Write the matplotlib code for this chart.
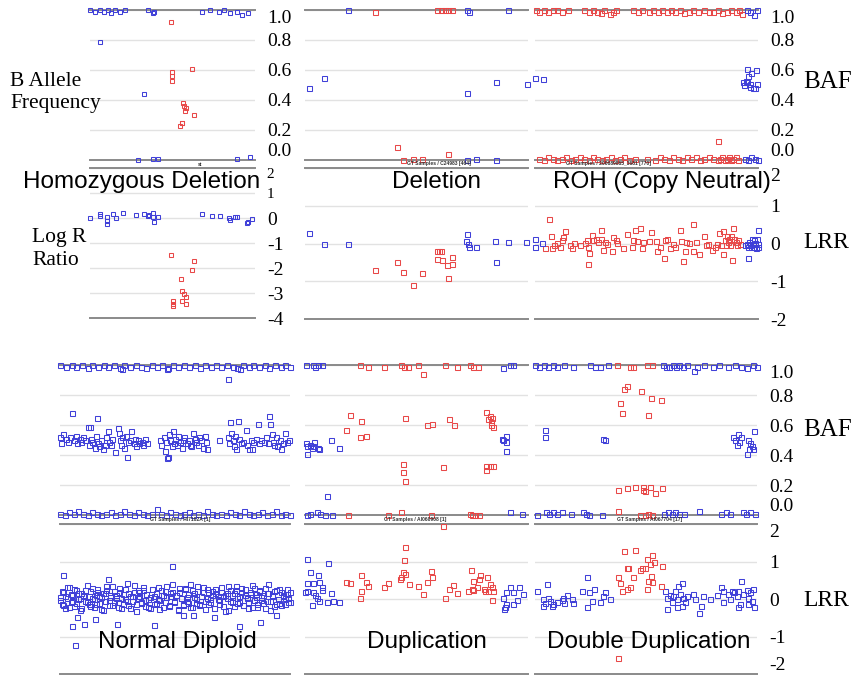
import matplotlib.pyplot as plt

W, H = 851, 678
BLUE = '#4040d8'
RED = '#e84848'
GRID = '#e2e2e2'
EDGE = '#8a8a8a'
SERIF = 'Liberation Serif'
SANS = 'Liberation Sans'

baf_ticks = [0.0, 0.2, 0.4, 0.6, 0.8, 1.0]
baf_labels = ['0.0', '0.2', '0.4', '0.6', '0.8', '1.0']
lrr_ticks_hom = [-4, -3, -2, -1, 0, 1, 2]
lrr_ticks = [-2, -1, 0, 1, 2]

titles_top = ['Homozygous Deletion', 'Deletion', 'ROH (Copy Neutral)']
titles_bottom = ['Normal Diploid', 'Duplication', 'Double Duplication']
samples_top = ['st', 'GT Samples / C24983 [464]', 'GT Samples / 200689865_3681 [770]']
samples_bottom = ['GT Samples / HI7102A [1]', 'GT Samples / AI060908 [1]', 'GT Samples / AI067704 [17]']

# ---- Homozygous deletion (x: 0-100 along the window) ----
hom_baf_blue = [(0, 1.0), (3, .99), (6, 1.0), (8.5, .99), (11, 1.0), (13, .98), (15, 1.0), (18, .99),
                (21, 1.0), (35, 1.0), (38, .98), (39, .99), (68, .99), (73, 1.0), (78, .99), (81, 1.0),
                (85, .98), (89, .99), (92, .97), (96, .98), (6, .79), (33, .44),
                (29, 0.0), (38, .01), (41, .01), (89, .01), (97, .02)]
hom_baf_red = [(49, .92), (49.7, .59), (49.7, .56), (49.7, .53), (61.8, .61), (56.4, .38), (57, .36),
               (58.2, .35), (57.6, .33), (63, .30), (55.8, .25), (54.5, .23), (56, .245)]
hom_lrr_blue = [(0, 0.0), (6, .16), (6, .07), (10, .03), (10, -.11), (10, -.24), (14, .16), (16, 0.0),
                (20, .2), (28, .13), (33, .16), (35, .09), (36, .13), (38, .19), (38, .03), (39, -.17),
                (41, .05), (68, .16), (74, .09), (79, .09), (84, 0.0), (85, -.07), (88, .05), (89, .05),
                (95, -.2), (96, -.15), (98, -.04)]
hom_lrr_red = [(49, -1.48), (63, -1.71), (62, -2.07), (55, -2.44), (56, -2.91), (57, -3.04), (58, -3.17),
               (56, -3.31), (58, -3.44), (50, -3.31), (50, -3.44), (50, -3.53)]

# ---- Deletion ----
del_baf_blue = [(1.8, .48), (8.5, .55), (19.3, 1.0), (72.6, 1.0), (73.5, .99), (91, 1.0), (72.6, .45),
                (85.7, .52), (99.5, .51), (72.6, 0.0), (76.7, .01), (85.7, 0.0)]
del_baf_red = [(31.4, .99), (59.2, 1.0), (61, 1.0), (62.8, 1.0), (64.1, 1.0), (65.9, 1.0), (41.3, .09),
               (43.9, 0.0), (48.4, .01), (52.5, .01), (64.1, .04)]
del_lrr_blue = [(1.8, .28), (8.5, 0.0), (19.3, 0.0), (72.6, .24), (72.2, .07), (73.1, 0.0), (73.5, -.09),
                (76.7, -.09), (85.2, .06), (91, .04), (99.1, .04), (85.7, -.49)]
del_lrr_red = [(31.4, -.71), (41.3, -.48), (43.9, -.75), (48.4, -1.09), (52.5, -.78), (59.2, -.19),
               (60.1, -.19), (61, -.19), (59.2, -.41), (61.4, -.45), (65.9, -.36), (65.9, -.53),
               (63.7, -.57), (64.1, -.91)]

# ---- ROH (copy neutral) ----
roh_baf_red = [(0.5, 1.0), (2, .99), (4, 1.0), (6, .99), (8, 1.0), (10, 1.0), (12, .99), (15, 1.0),
               (22, 1.0), (24, .99), (26, 1.0), (28, .99), (29.5, .98), (31, 1.0), (33.5, .975), (35, .99),
               (36.5, 1.0), (44, 1.0), (46, .99), (48, 1.0), (51, .99), (53, 1.0), (55, .99), (57, 1.0),
               (59, .99), (61, 1.0), (63, .99), (65, 1.0), (67, .98), (69, .99), (71, 1.0), (73, .99),
               (76, 1.0), (78, .99), (80, .99), (82, 1.0), (84, .98), (86, .99), (88, 1.0), (90, .99),
               (91.5, 1.0), (93, .975),
               (2, .01), (4, 0.0), (6, .02), (8, .01), (10, 0.0), (12, .01), (14, .02), (16, 0.0),
               (18, .01), (20, .02), (22, .01), (24, 0.0), (26, .02), (28, .01), (30, 0.0), (32, .01),
               (34, .02), (36, 0.0), (38, .01), (40, .02), (42, 0.0), (45, .01), (50, .01), (54, 0.0),
               (56, .02), (58, .01), (60, 0.0), (62, .02), (64, .01), (66, 0.0), (68, .02), (70, .01),
               (72, .02), (74, 0.0), (76, .01), (78, .02), (80, .01), (82, 0.0), (83, .01), (84, .02),
               (85, 0.0), (86, .01), (87, .02), (88, 0.0), (89, .01), (90, .02), (91, 0.0), (82, .13)]
roh_baf_blue = [(0, .55), (3.6, .54), (94.9, .61), (96.7, .58), (99.1, .60), (95.7, .56), (94.6, .53),
                (93.4, .52), (95.2, .52), (96.4, .49), (97.6, .48), (98.7, .48), (99.4, .51), (93.9, .50),
                (96.3, .51), (95, 1.0), (96.5, .99), (98, .97), (99.5, 1.0),
                (94, .01), (95.5, 0.0), (97, .02), (98.5, .01), (100, 0.0)]
roh_lrr_red = [(4.5, -.13), (6.3, .64), (7, .19), (7.5, -.13), (8.5, -.04), (9.7, .02), (11.2, -.1),
               (12, .1), (12.7, .17), (13.5, .32), (15.7, -.04), (16.4, -.13), (17.5, .02), (20.2, -.04),
               (22.4, .02), (23.5, .1), (23.9, -.08), (24.4, -.26), (23.9, -.54), (25.4, .23), (26.2, .08),
               (27.4, .12), (28.4, .04), (29.6, .35), (29.5, .12), (30.3, -.17), (31.4, .04), (32.4, 0.0),
               (34.4, -.19), (35.1, .17), (36.3, .08), (36.9, .02), (39.3, -.13), (41.4, .26), (43.4, -.08),
               (44.1, .1), (44.8, .37), (45.9, .06), (47.1, .42), (47.8, -.13), (48.6, .04), (51.3, .06),
               (51.9, .3), (54.3, .06), (54.8, -.19), (56.1, -.1), (58, -.39), (58.3, .08), (59.1, .12),
               (60.5, -.13), (62, 0.0), (62.8, -.1), (65, .37), (65.3, .06), (66.2, -.47), (67.3, -.19),
               (67.7, .04), (69.2, .02), (70.7, .51), (71, -.19), (72.2, .04), (73.7, -.28), (75.8, .19),
               (76.7, -.04), (77.7, -.02), (79.2, -.17), (80.7, -.1), (81.8, 0.0), (82.7, .28), (83.3, -.04),
               (84.2, .33), (84.2, -.28), (85.2, .08), (86, .19), (86.7, .04), (87.4, -.04), (87.9, .19),
               (88.2, -.45), (88.9, .41), (89.2, .12), (90.1, .04), (90.4, -.04), (91.2, .08), (91.9, -.02),
               (85.6, -.04), (87.2, .12)]
roh_lrr_blue = [(0, -.09), (3, .02), (0, .12), (94.1, -.04), (95, 0.0), (95.3, -.08), (96, .04), (96.5, -.04),
                (96.9, -.1), (97.6, 0.0), (98.1, .08), (98.4, -.08), (98.7, .02), (99.1, -.13), (99.6, .12),
                (99.9, -.02), (100, .35), (99.8, -.08), (97.2, .12), (95.5, -.39)]

# ---- Normal diploid ----
nd_baf_blue = [(0, 1.0), (2.5, .99), (5, 1.0), (7, .99), (9.5, 1.0), (12, .98), (14, 1.0), (16.5, .99),
               (19, 1.0), (21, .99), (23.5, 1.0), (26, .98), (28, 1.0), (30.5, .99), (33, 1.0), (35, .99),
               (37.5, .98), (40, 1.0), (42, .99), (44.5, 1.0), (47, .98), (49, 1.0), (51.5, .99), (54, 1.0),
               (56, .99), (58.5, 1.0), (61, .98), (63, 1.0), (65.5, .99), (68, 1.0), (70, .99), (72.5, 1.0),
               (75, .99), (77, .98), (79.5, 1.0), (82, .99), (84, 1.0), (86.5, .99), (89, 1.0), (91, .98),
               (93.5, 1.0), (96, .99), (98, 1.0), (100, .99), (26.8, .975), (46.4, .975), (78.3, .975),
               (73.2, .91),
               (0, .52), (0.5, .48), (1.5, .54), (2.5, .51), (3.5, .49), (5, .68), (4.5, .52), (6, .50),
               (7, .53), (7.5, .48), (8.5, .51), (9, .49), (10, .52), (11, .50), (12, .59), (13, .59),
               (12.5, .47), (13.5, .51), (14, .49), (15, .45), (15.5, .53), (16, .65), (16.5, .48), (17, .46),
               (18, .50), (18.5, .44), (19.5, .47), (20, .52), (21, .56), (21.5, .49), (22, .47), (22.5, .51),
               (24, .42), (25, .58), (25.5, .55), (26, .50), (26.5, .47), (27, .52), (28, .45), (28.5, .53),
               (29, .39), (29.5, .49), (30.5, .50), (31, .56), (32, .48), (32.5, .51), (33, .46), (34, .50),
               (34.5, .48), (35.5, .49), (36, .47), (37, .51), (38, .48),
               (43.5, .50), (44, .47), (45, .52), (45.5, .43), (46, .49), (46.5, .38), (47, .39), (47.5, .54),
               (48, .50), (48.5, .46), (49, .56), (49.5, .48), (50, .51), (51, .47), (51.5, .53), (52, .49),
               (53, .45), (53.5, .50), (54, .52), (55, .48), (56, .50), (56.5, .47), (57, .46), (58, .55),
               (58.5, .51), (59, .49), (60, .47), (60.5, .52), (61.5, .50), (62, .45), (63, .53), (63.5, .49),
               (64, .44), (69, .50),
               (73, .52), (73.5, .48), (74, .62), (74.5, .55), (75, .50), (75.5, .46), (76, .53), (76.5, .44),
               (77.5, .63), (78, .51), (78.5, .48), (79.5, .49), (81, .57), (81.5, .47), (82, .44), (83, .50),
               (83.5, .44), (84, .49), (85, .51), (86, .61), (86.5, .48), (87.5, .50), (88.5, .49), (89.5, .52),
               (90.5, .48), (91, .66), (91.5, .61), (92, .54), (92.5, .49), (93, .47), (94, .52), (94.5, .46),
               (95.5, .50), (96, .44), (97, .48), (98, .55), (98.5, .49), (99.5, .50),
               (0, .01), (2, 0.0), (4, .02), (6, .01), (8, .03), (10, .01), (12, 0.0), (14, .02), (16, .01),
               (18, 0.0), (20, .01), (22, .02), (24, 0.0), (26, .01), (28, .03), (30, .01), (32, 0.0),
               (34, .02), (36, .01), (38, 0.0), (40, .01), (42, .04), (44, .01), (46, 0.0), (48, .02),
               (50, .01), (52, 0.0), (54, .01), (56, .02), (58, 0.0), (60, .01), (62, 0.0), (64, .03),
               (66, .01), (68, 0.0), (70, .01), (72, 0.0), (74, .02), (76, .01), (78, 0.0), (80, .03),
               (82, .01), (84, 0.0), (86, .01), (88, .02), (90, 0.0), (92, .01), (94, .03), (96, 0.0),
               (98, .01), (100, 0.0)]
nd_lrr_x = [0, 0.7, 1.5, 2.2, 3.0, 3.9, 4.6, 5.4, 6.1, 6.9, 7.8, 8.5, 9.3, 10.0, 10.8, 11.7, 12.4, 13.2,
            13.9, 14.8, 15.6, 16.3, 17.1, 17.9, 18.7, 19.5, 20.2, 21.1, 21.8, 22.6, 23.5, 24.2, 25.0, 25.8,
            26.6, 27.4, 28.1, 29.0, 29.7, 30.5, 31.4, 32.1, 32.9, 33.7, 34.5, 35.3, 36.0, 36.9, 37.6, 38.4,
            39.3, 40.0, 40.8, 41.6, 42.4, 43.2, 43.9, 44.8, 45.5, 46.3, 47.2, 47.9, 48.7, 49.5, 50.3, 51.1,
            51.8, 52.7, 53.4, 54.2, 55.1, 55.8, 56.6, 57.4, 58.2, 59.0, 59.7, 60.6, 61.3, 62.1, 63.0, 63.7,
            64.5, 65.3, 66.1, 66.9, 67.6, 68.5, 69.2, 70.0, 70.9, 71.6, 72.4, 73.2, 74.0, 74.8, 75.5, 76.4,
            77.1, 77.9, 78.8, 79.5, 80.3, 81.1, 81.9, 82.7, 83.4, 84.3, 85.0, 85.8, 86.7, 87.4, 88.2, 89.0,
            89.8, 90.6, 91.3, 92.2, 92.9, 93.7, 94.6, 95.3, 96.1, 96.9, 97.7, 98.5, 99.2, 100.0]
nd_lrr_a = [0.05, -0.12, 0.18, -0.25, 0.02, 0.31, -0.08, 0.12, -0.18, 0.24, 0.0, -0.3, 0.15, 0.08, -0.05,
            0.38, -0.14, 0.21, 0.03, -0.22, 0.1, 0.27, -0.1, 0.06, -0.28, 0.16, 0.35, -0.02, 0.11, -0.17,
            0.22, 0.04, -0.09, 0.29, -0.24, 0.13, 0.01, 0.42, -0.15, 0.07, -0.06, 0.19, -0.32, 0.25, 0.09,
            -0.11, 0.33, -0.03, 0.14, -0.2, 0.05, 0.28, -0.13, 0.17, 0.0, -0.26, 0.23, 0.1, -0.07, 0.36,
            -0.19, 0.08, 0.2, -0.04, 0.12, -0.29, 0.3, 0.02, -0.16, 0.26, 0.06, -0.1, 0.4, -0.21, 0.15,
            -0.01, 0.22, -0.14, 0.09, 0.32, -0.27, 0.04, 0.18, -0.08, 0.11, -0.23, 0.27, 0.0, -0.12, 0.2,
            0.07, -0.31, 0.16, 0.34, -0.05, 0.12, -0.18, 0.24, 0.03, -0.09, 0.29, -0.15, 0.1, 0.05, -0.25,
            0.19, 0.38, -0.02, 0.13, -0.2, 0.23, 0.06, -0.11, 0.3, -0.06, 0.15, -0.28, 0.08, 0.21, -0.13,
            0.01, 0.26, -0.17, 0.11, 0.04, 0.14, -0.07, 0.19]
nd_lrr_b = [-0.02, 0.21, -0.15, 0.09, 0.33, -0.2, 0.14, -0.06, 0.27, -0.11, 0.17, 0.04, -0.24, 0.12, 0.25,
            -0.09, 0.07, -0.18, 0.3, 0.01, -0.13, 0.2, 0.08, -0.27, 0.15, -0.04, 0.23, -0.16, 0.06, 0.34,
            -0.08, 0.11, -0.21, 0.18, 0.03, -0.12, 0.28, -0.05, 0.16, -0.25, 0.09, 0.37, -0.14, 0.02, 0.19,
            -0.07, 0.24, -0.19, 0.13, 0.0, -0.23, 0.26, 0.07, -0.1, 0.31, -0.03, 0.12, -0.2, 0.22, 0.05,
            -0.15, 0.17, 0.39, -0.08, 0.1, -0.26, 0.2, 0.03, -0.12, 0.29, -0.04, 0.13, -0.22, 0.24, 0.06,
            -0.1, 0.35, -0.17, 0.08, 0.18, -0.06, 0.27, -0.14, 0.01, 0.21, -0.24, 0.15, 0.09, -0.03, 0.32,
            -0.19, 0.11, 0.04, -0.28, 0.23, -0.07, 0.16, 0.36, -0.11, 0.07, 0.19, -0.16, 0.26, 0.02, -0.09,
            0.14, -0.21, 0.3, 0.05, -0.13, 0.22, -0.02, 0.1, -0.25, 0.17, 0.41, -0.06, 0.12, -0.18, 0.25,
            0.0, -0.11, 0.2, 0.07, -0.14, 0.28, 0.03, -0.08]
nd_lrr_out = [(48.6, .89), (1.4, .64), (21, .53), (6.5, -1.23), (5, -.71), (41, -.68), (78, -.71),
              (94, -.43), (87, -.62), (67, -.49), (53.6, -.43), (58, -.43), (10.6, -.67), (15.2, -.53),
              (24.6, -.67), (7.5, -.49)]

# ---- Duplication ----
dup_baf_blue = [(0.4, .48), (1, .46), (2.2, .47), (3, .45), (3.7, .46), (4.2, .49), (6, .45), (6.4, .44),
                (0.7, .41), (11.5, .50), (15.2, .45), (9.7, .13), (88.2, .51), (88.6, .50), (90.1, .53),
                (90.1, .49), (90.3, .43), (0.4, 1.0), (3.7, 1.0), (4.5, .99), (6, 1.0), (7.5, 1.0),
                (88.9, .98), (91.9, 1.0), (93.4, 1.0), (0.7, 0.0), (2.2, .01), (5.2, .02), (6.7, .01),
                (9, 0.0), (12, 0.0), (91.9, .02), (97.2, .01)]
dup_baf_red = [(24.7, 1.0), (28.4, .99), (35.6, .99), (42.9, 1.0), (44.4, .99), (46.3, .99), (50.8, 1.0),
               (62.8, 1.0), (68, .99), (74, 1.0), (75.5, .99), (77.7, .99), (53.1, .94),
               (20.2, .67), (25.1, .63), (18.2, .57), (24.7, .52), (27.5, .53), (44.8, .65), (54.6, .60),
               (56.8, .61), (64.6, .64), (66.7, .60), (81.2, .69), (82.1, .64), (83, .66), (83.9, .65),
               (83.3, .62), (84.2, .59), (83.6, .60), (43.8, .34), (43.8, .29), (45, .23), (62, .32),
               (81, .33), (81, .30), (83, .33), (84.2, .33), (19.1, 0.0), (37.1, 0.0), (42.9, .02),
               (56.5, 0.0), (74, .01), (74.7, 0.0), (76.2, 0.0), (78.2, 0.0)]
dup_lrr_blue = [(0.7, 1.07), (10.5, .96), (2.2, .71), (6, .64), (0.7, .43), (3.7, .43), (6.4, .46),
                (7.5, .33), (1, .22), (3.7, .18), (4.5, .11), (7.5, .24), (6.4, -.04), (9.7, -.09),
                (12.7, -.06), (15.2, -.07), (3, -.15), (11.5, .16), (0, .18), (5.2, .04), (88.6, .04),
                (90.1, .2), (91.9, .31), (93.1, .18), (96.1, .33), (97.6, .13), (95.2, -.03), (93.1, -.13),
                (90.1, -.12), (89.2, -.27), (89.7, -.2)]
dup_lrr_red = [(18.4, .46), (20.2, .44), (25.1, .64), (27.4, .46), (28.4, .36), (25.1, .22), (24.7, .04),
               (35.6, .31), (37.1, .44), (44.8, 1.38), (44.4, 1.05), (43.8, .73), (44.8, .67), (42.9, .58),
               (42.6, .53), (46.8, .40), (50.8, .36), (53.1, .13), (54.6, .46), (56.5, .75), (56.8, .58),
               (62.8, .02), (64.7, .27), (66.5, .37), (68, .16), (74.4, .77), (78.5, .65), (78.2, .53),
               (81.8, .59), (75.2, .49), (74.7, .27), (73.2, .22), (77, .31), (80.3, .27), (83, .40),
               (83.7, .33), (80.7, .22), (82.2, .22), (84.5, .22), (83.7, -.03), (75.5, .25), (62, 1.94)]

# ---- Double duplication ----
ddup_baf_blue = [(4.5, .57), (4.5, .52), (30.5, .51), (31.5, .50), (89, .52), (90.1, .50), (91.6, .54),
                 (92.6, .52), (90.8, .47), (92, .49), (96.1, .50), (96.8, .48), (97.6, .46), (98.6, .56),
                 (96.5, .44), (95.3, .41), (98, .44),
                 (0, 1.0), (2, .99), (4, 1.0), (6, .99), (8, 1.0), (10, .99), (13, 1.0), (17, .99),
                 (24.8, 1.0), (27, .99), (29.5, .99), (33, 1.0), (57.8, 1.0), (59, .99), (60.5, .99),
                 (62, 1.0), (63.5, .99), (65, 1.0), (66.5, .99), (68.3, 1.0), (72.8, .99), (76, 1.0),
                 (80, .99), (83, 1.0), (87, .99), (90, 1.0), (93, .99), (95.5, .98), (98, 1.0), (100, .99),
                 (71.8, .96),
                 (1, 0.0), (5, .02), (6.5, .01), (8, .02), (10, .01), (12, .02), (16, .01), (21.5, .02),
                 (23, .01), (24.5, 0.0), (30, 0.0), (58, .01), (60, .02), (61.5, .01), (63, .02), (65, .01),
                 (67, .01), (74, .03), (84, .01), (86, .02), (88, .01), (93.5, .02), (95, .01), (97, .02),
                 (99, .01)]
ddup_baf_red = [(37.1, 1.0), (42.8, .99), (44.3, .99), (50.3, 1.0), (52.6, 1.0), (41.3, .86), (40.2, .84),
                (47.7, .83), (52.1, .78), (56.6, .77), (38.3, .75), (39, .68), (50.8, .67), (37.5, .17),
                (41.6, .18), (45, .19), (48.8, .19), (49.5, .16), (51.8, .19), (54.1, .15), (57.1, .18),
                (48.5, .17), (37.5, .03), (47.3, 0.0), (49.5, 0.0), (51, .01), (52.6, 0.0)]
ddup_lrr_blue = [(0.8, .22), (5.6, .4), (3.8, 0.0), (6, .02), (6.8, -.04), (4.5, -.11), (8.3, -.13),
                 (9.8, -.07), (12, -.02), (12.8, .04), (14.3, .11), (16.5, 0.0), (17.3, -.11), (13.1, -.11),
                 (3.8, -.18), (7.5, -.18), (21, .22), (23.3, .58), (24.5, .2), (26.6, .28), (23.3, -.2),
                 (25.5, -.04), (29.3, -.07), (31.5, .18), (30.5, .07), (33.8, 0.0),
                 (58.6, .22), (59.3, .04), (60.8, .11), (62.3, .07), (63.8, 0.0), (65.3, .13), (66.1, .44),
                 (64.6, .36), (66.8, .04), (67.6, -.07), (59.3, -.27), (63.8, -.2), (61.6, -.09),
                 (66.1, -.18), (68.3, .07), (63.1, .22), (71.3, .13), (72.1, 0.0), (74.6, -.18), (74, -.36),
                 (75.8, .07), (78.8, 0.0), (81.8, .11), (83.6, .33), (84.5, .22), (87.1, .13), (87.8, 0.0),
                 (88.6, .22), (89.6, .18), (90.8, .07), (91.6, .22), (92.6, .49), (93.8, .13), (95.3, .24),
                 (96.1, .04), (96.8, .18), (98, .27), (98.6, -.22), (96.1, -.13), (92.3, -.13), (84.5, -.09),
                 (91.6, -.2), (97.6, -.04)]
ddup_lrr_red = [(40.1, 1.27), (45, 1.31), (37.5, .58), (38.3, .43), (41.3, .84), (41.7, .84), (44, .58),
                (39, .22), (41.3, .27), (42.8, .31), (47.3, .77), (48, .84), (49.5, .84), (50.3, 1.07),
                (52.6, 1.17), (53.6, 1.0), (51.8, .93), (52.1, .62), (52.6, .46), (51, .49), (50.3, .27),
                (56.8, .35), (57.1, .87), (37.5, -1.56)]

fig = plt.figure(figsize=(W / 100, H / 100), dpi=100)


def make_ax(l, t, r, b, ylim, ticks, labels=None):
    ax = fig.add_axes([l / W, 1 - b / H, (r - l) / W, (b - t) / H])
    ax.set_xlim(0, 100)
    ax.set_ylim(*ylim)
    ax.set_xticks([])
    ax.set_yticks(ticks)
    ax.yaxis.grid(True, color=GRID, lw=1.0)
    ax.set_axisbelow(True)
    for side in ['left', 'right']:
        ax.spines[side].set_visible(False)
    for side in ['top', 'bottom']:
        ax.spines[side].set_color(EDGE)
        ax.spines[side].set_linewidth(1.4)
    ax.yaxis.tick_right()
    ax.tick_params(axis='y', length=0, pad=8.5)
    if labels is None:
        ax.tick_params(axis='y', labelright=False, labelleft=False)
    else:
        ax.set_yticklabels(labels, fontfamily=SERIF, fontsize=14)
    return ax


def dots(ax, pts, color, ms=3.6):
    xs = [p[0] for p in pts]
    ys = [p[1] for p in pts]
    ax.plot(xs, ys, 's', ls='none', mfc='none', mec=color, ms=ms, mew=0.75,
            clip_on=False, zorder=3)


# top row
a1 = make_ax(90, 10, 255, 160, (0, 1), baf_ticks, baf_labels)
a2 = make_ax(90, 168, 255, 318, (-4, 2), lrr_ticks_hom, [str(v) for v in lrr_ticks_hom])
b1 = make_ax(305, 10, 528, 160, (0, 1), baf_ticks)
b2 = make_ax(305, 168, 528, 319, (-2, 2), lrr_ticks)
c1 = make_ax(535, 10, 758, 160, (0, 1), baf_ticks, baf_labels)
c2 = make_ax(535, 168, 758, 319, (-2, 2), lrr_ticks, [str(v) for v in lrr_ticks])
# bottom row
d1 = make_ax(60, 365, 290, 515, (0, 1), baf_ticks)
d2 = make_ax(60, 524, 290, 674, (-2, 2), lrr_ticks)
e1 = make_ax(305, 365, 528, 515, (0, 1), baf_ticks)
e2 = make_ax(305, 524, 528, 674, (-2, 2), lrr_ticks)
f1 = make_ax(535, 365, 757, 515, (0, 1), baf_ticks, baf_labels)
f2 = make_ax(535, 524, 757, 674, (-2, 2), lrr_ticks, [str(v) for v in lrr_ticks])

# keep end labels inside the panel height
for ax in [a1, c1, f1]:
    labs = ax.get_yticklabels()
    labs[0].set_va('bottom')
    labs[-1].set_va('top')
for ax in [a2, c2, f2]:
    labs = ax.get_yticklabels()
    labs[-1].set_va('top')
for lab in a2.get_yticklabels()[-2:]:
    lab.set_fontsize(11)
f2.get_yticklabels()[0].set_va('bottom')

dots(a1, hom_baf_blue, BLUE, 2.8)
dots(a1, hom_baf_red, RED, 2.8)
dots(a2, hom_lrr_blue, BLUE, 2.8)
dots(a2, hom_lrr_red, RED, 2.8)
dots(b1, del_baf_blue, BLUE)
dots(b1, del_baf_red, RED)
dots(b2, del_lrr_blue, BLUE)
dots(b2, del_lrr_red, RED)
dots(c1, roh_baf_red, RED)
dots(c1, roh_baf_blue, BLUE)
dots(c2, roh_lrr_red, RED)
dots(c2, roh_lrr_blue, BLUE)
dots(d1, nd_baf_blue, BLUE)
dots(d2, list(zip(nd_lrr_x, nd_lrr_a)), BLUE)
dots(d2, list(zip(nd_lrr_x, nd_lrr_b)), BLUE)
dots(d2, nd_lrr_out, BLUE)
dots(e1, dup_baf_blue, BLUE)
dots(e1, dup_baf_red, RED)
dots(e2, dup_lrr_blue, BLUE)
dots(e2, dup_lrr_red, RED)
dots(f1, ddup_baf_blue, BLUE)
dots(f1, ddup_baf_red, RED)
dots(f2, ddup_lrr_blue, BLUE)
dots(f2, ddup_lrr_red, RED)


def ftext(x, y, s, **kw):
    fig.text(x / W, 1 - y / H, s, **kw)


# sample footers between BAF and LRR panels
for x, s in zip([200, 439, 608], samples_top):
    ftext(x, 164, s, fontsize=3.6, fontweight='bold', color='#333333', ha='center', va='center',
          fontfamily=SANS)
for x, s in zip([180, 415, 650], samples_bottom):
    ftext(x, 519.5, s, fontsize=3.6, fontweight='bold', color='#333333', ha='center', va='center',
          fontfamily=SANS)

# case titles
for x, s in zip([142, 437, 662], titles_top):
    ftext(x, 188, s, fontsize=17.5, fontfamily=SANS, ha='center', va='baseline', zorder=5)
for x, s in zip([177, 427, 649], titles_bottom):
    ftext(x, 648, s, fontsize=17.5, fontfamily=SANS, ha='center', va='baseline', zorder=5)

# axis names
ftext(10, 86, 'B Allele', fontsize=15.5, fontfamily=SERIF, va='baseline')
ftext(10, 108, 'Frequency', fontsize=15.5, fontfamily=SERIF, va='baseline')
ftext(32, 242, 'Log R', fontsize=15.5, fontfamily=SERIF, va='baseline')
ftext(32, 265, 'Ratio', fontsize=15.5, fontfamily=SERIF, va='baseline')
ftext(803, 82, 'BAF', fontsize=18, fontfamily=SERIF, va='center')
ftext(803, 243, 'LRR', fontsize=17, fontfamily=SERIF, va='center')
ftext(803, 430, 'BAF', fontsize=18, fontfamily=SERIF, va='center')
ftext(803, 600, 'LRR', fontsize=17, fontfamily=SERIF, va='center')

fig.savefig('out.png', dpi=100)
